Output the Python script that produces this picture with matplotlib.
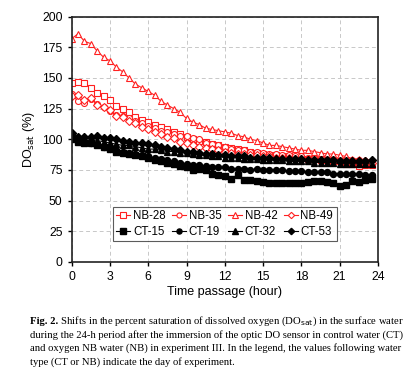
import numpy as np
import matplotlib
matplotlib.use('Agg')
import matplotlib.pyplot as plt

# time axis, half-hour readings
hours = np.arange(0, 24, 0.5)

nb28 = [146, 147, 146, 142, 138, 135, 132, 127, 125, 122, 118, 116, 114, 112, 110, 108,
        106, 104, 102, 100, 99, 98, 96, 95, 94, 93, 92, 91, 90, 89, 88, 87,
        87, 86, 86, 85, 85, 84, 84, 83, 83, 82, 82, 80, 80, 78, 79, 79]
nb35 = [137, 131, 130, 133, 129, 126, 123, 120, 119, 117, 115, 113, 111, 109, 107, 106,
        104, 103, 103, 101, 100, 97, 96, 95, 94, 92, 91, 91, 90, 90, 89, 88,
        88, 87, 87, 86, 86, 85, 85, 85, 84, 84, 84, 83, 83, 83, 82, 82]
nb42 = [182, 186, 180, 178, 172, 167, 164, 159, 155, 150, 145, 142, 139, 136, 131, 128,
        125, 122, 117, 114, 112, 109, 108, 107, 106, 105, 103, 102, 100, 99, 97, 95,
        95, 94, 93, 92, 91, 91, 90, 89, 88, 88, 87, 86, 84, 84, 83, 83]
nb49 = [135, 136, 132, 134, 128, 126, 124, 119, 118, 115, 113, 110, 108, 106, 104, 102,
        101, 98, 97, 95, 94, 93, 92, 91, 90, 89, 88, 88, 87, 87, 86, 86,
        85, 85, 85, 84, 84, 84, 83, 83, 83, 83, 82, 82, 82, 82, 82, 81]
ct15 = [100, 98, 97, 97, 95, 94, 92, 90, 89, 88, 87, 86, 85, 83, 82, 81,
        80, 78, 77, 75, 76, 75, 72, 71, 70, 68, 71, 67, 67, 66, 65, 64,
        64, 64, 64, 64, 64, 65, 66, 66, 65, 64, 62, 63, 66, 65, 67, 68]
ct19 = [101, 99, 98, 97, 96, 94, 93, 91, 90, 89, 88, 87, 86, 85, 84, 83,
        82, 81, 80, 79, 79, 78, 77, 77, 77, 76, 76, 76, 75, 76, 75, 75,
        75, 75, 74, 74, 74, 73, 73, 73, 73, 72, 72, 72, 72, 72, 71, 71]
ct32 = [102, 102, 101, 100, 99, 98, 97, 96, 95, 95, 94, 93, 92, 92, 91, 90,
        90, 89, 89, 88, 87, 87, 86, 86, 85, 85, 85, 84, 84, 84, 83, 83,
        83, 83, 82, 82, 82, 82, 81, 81, 81, 81, 80, 80, 80, 80, 80, 80]
ct53 = [105, 102, 102, 102, 103, 101, 101, 100, 99, 98, 97, 97, 96, 95, 94, 93,
        92, 91, 90, 90, 89, 88, 88, 87, 87, 86, 86, 86, 85, 85, 85, 85,
        84, 84, 84, 84, 84, 83, 83, 83, 83, 83, 82, 82, 82, 82, 82, 83]

nb_series = [('NB-28', nb28, 's'), ('NB-35', nb35, 'o'), ('NB-42', nb42, '^'), ('NB-49', nb49, 'D')]
ct_series = [('CT-15', ct15, 's'), ('CT-19', ct19, 'o'), ('CT-32', ct32, '^'), ('CT-53', ct53, 'D')]

plt.rcParams['font.family'] = ['Liberation Sans', 'DejaVu Sans']

fig = plt.figure(figsize=(4.14, 3.79), dpi=100)
ax = fig.add_axes([0.173, 0.309, 0.740, 0.647])

red = '#ff2020'
nb_lines, ct_lines = [], []
for name, vals, m in nb_series:
    ln, = ax.plot(hours, vals, color=red, lw=0.8, marker=m, ms=4.3 if m != 'D' else 3.8,
                  mfc='white', mec=red, mew=0.8, label=name)
    nb_lines.append(ln)
for name, vals, m in ct_series:
    ln, = ax.plot(hours, vals, color='black', lw=0.8, marker=m, ms=4.3 if m != 'D' else 3.8,
                  mfc='black', mec='black', label=name)
    ct_lines.append(ln)

ax.set_xlim(0, 24)
ax.set_ylim(0, 200)
ax.set_xticks(range(0, 25, 3))
ax.set_yticks(range(0, 201, 25))
ax.grid(True, ls=(0, (4, 3)), color='#c8c8c8', lw=0.7)
ax.set_axisbelow(True)
for s in ax.spines.values():
    s.set_linewidth(1.2)
    s.set_color('#222222')
ax.tick_params(labelsize=8.8, length=3, width=1, direction='out')
ax.set_xlabel('Time passage (hour)', fontsize=9, labelpad=2)
ax.set_ylabel(r'DO$_{\mathrm{sat}}$ (%)', fontsize=9, labelpad=4)

# legend fills column by column, so interleave to get NB row then CT row
handles = []
for a, b in zip(nb_lines, ct_lines):
    handles += [a, b]
leg = ax.legend(handles=handles, labels=[h.get_label() for h in handles], ncol=4,
                loc='lower center', bbox_to_anchor=(0.5, 0.085), fontsize=8.3,
                handlelength=1.2, handletextpad=0.25, columnspacing=0.55, labelspacing=0.3,
                borderpad=0.3, borderaxespad=0, frameon=True, fancybox=False,
                edgecolor='#333333', markerscale=0.85)
leg.get_frame().set_linewidth(0.8)

# caption under the chart
cap_font = ['Liberation Serif', 'DejaVu Serif']
lines = [
    r' Shifts in the percent saturation of dissolved oxygen (DO$_{\mathrm{sat}}$) in the surface water',
    'during the 24-h period after the immersion of the optic DO sensor in control water (CT)',
    'and oxygen NB water (NB) in experiment III. In the legend, the values following water',
    'type (CT or NB) indicate the day of experiment.',
]
x0 = 30 / 414
y0 = 1 - 324 / 379
fs = 7.7
lab = fig.text(x0, y0, 'Fig. 2.', family=cap_font, fontweight='bold', fontsize=fs, va='baseline')
fig.canvas.draw()
bb = lab.get_window_extent()
fig.text(bb.x1 / fig.bbox.width, y0, lines[0], family=cap_font, fontsize=fs, va='baseline')
for i, ln in enumerate(lines[1:], start=1):
    fig.text(x0, y0 - i * 13.5 / 379, ln, family=cap_font, fontsize=fs, va='baseline')

fig.savefig('out.png', dpi=100)
